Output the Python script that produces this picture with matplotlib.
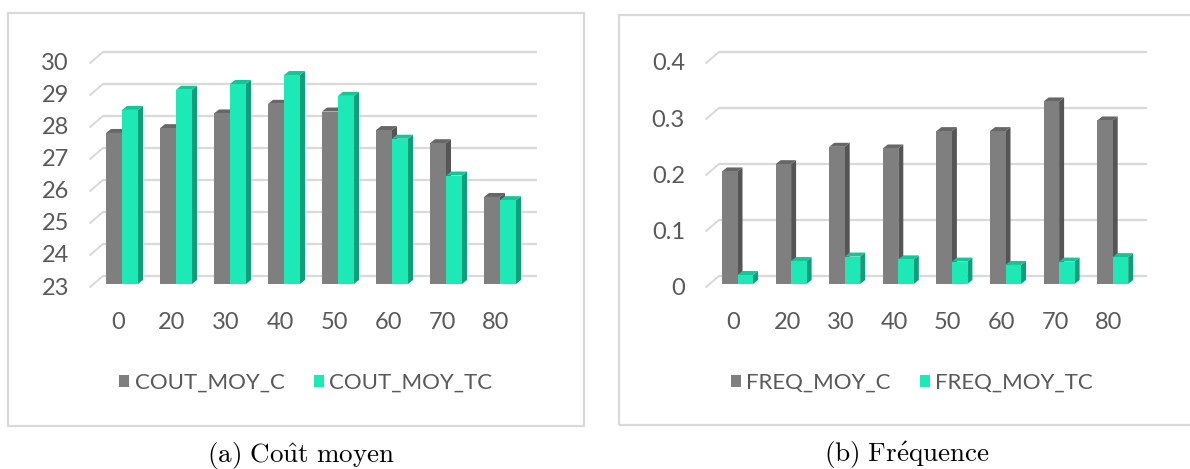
import matplotlib
matplotlib.use("Agg")
import matplotlib.pyplot as plt
from matplotlib.patches import Polygon, Rectangle, Patch
from matplotlib.transforms import ScaledTranslation

# ---- data ---------------------------------------------------------------
categories = ['0', '20', '30', '40', '50', '60', '70', '80']

cout_moy_c = [27.72, 27.87, 28.33, 28.63, 28.39, 27.81, 27.40, 25.72]
cout_moy_tc = [28.44, 29.07, 29.25, 29.53, 28.88, 27.54, 26.39, 25.62]
cout_ticks = [23, 24, 25, 26, 27, 28, 29, 30]

freq_moy_c = [0.201, 0.214, 0.245, 0.242, 0.273, 0.273, 0.326, 0.292]
freq_moy_tc = [0.016, 0.041, 0.049, 0.044, 0.040, 0.034, 0.040, 0.048]
freq_ticks = [0, 0.1, 0.2, 0.3, 0.4]
freq_tick_labels = ['0', '0.1', '0.2', '0.3', '0.4']

# ---- styling ------------------------------------------------------------
W, H, DPI = 1190, 469, 100
plt.rcParams['mathtext.fontset'] = 'cm'
TEXT_FONT = ['Lato', 'DejaVu Sans']
TEXT_COLOR = '#595959'
GRID_COLOR = '#d9d9d9'

GRAY = dict(front='#7f7f7f', side='#555555', top='#676767')
GREEN = dict(front='#1de9b6', side='#109e78', top='#17c497')

fig = plt.figure(figsize=(W / DPI, H / DPI), dpi=DPI)


def px_offset(dx, dy):
    return ScaledTranslation(dx / DPI, dy / DPI, fig.dpi_scale_trans)


def draw_panel(left, right, top, bottom, first_px, step_px, bar_px,
               base, base_px, px_per_unit, s1, s2, ticks, tick_labels):
    """3-D looking clustered column chart inside a pixel box."""
    ax = fig.add_axes([left / W, 1 - bottom / H, (right - left) / W,
                       (bottom - top) / H])
    ax.set_xlim((left - first_px) / step_px, (right - first_px) / step_px)
    ax.set_ylim(base - (bottom - base_px) / px_per_unit,
                base + (base_px - top) / px_per_unit)
    ax.axis('off')

    # pixel -> data unit conversions
    ux = 1.0 / step_px
    uy = 1.0 / px_per_unit
    x0 = ax.get_xlim()[0]

    # back-wall gridlines with receding diagonals on the left
    wall_dx, wall_up, front_down = 13, 8, 3
    for v in ticks:
        ax.plot([x0 + wall_dx * ux, ax.get_xlim()[1]],
                [v + wall_up * uy] * 2, color=GRID_COLOR, lw=1.6,
                zorder=1, solid_capstyle='butt')
        ax.plot([x0, x0 + wall_dx * ux],
                [v - front_down * uy, v + wall_up * uy],
                color=GRID_COLOR, lw=1.4, zorder=1, clip_on=False)

    # columns: front faces through ax.bar, then side and top faces
    w = bar_px * ux
    dx, dy = 5 * ux, 4 * uy
    xs = list(range(len(categories)))
    for i in xs:
        for vals, col, shift in ((s1, GRAY, -w / 2), (s2, GREEN, w / 2)):
            v = vals[i]
            xl = i + shift - w / 2
            xr = i + shift + w / 2
            z = 3 + 2 * i + (1 if col is GREEN else 0)
            ax.add_patch(Polygon([(xr, base), (xr, v), (xr + dx, v + dy),
                                  (xr + dx, base + dy)], closed=True,
                                 fc=col['side'], ec='none', zorder=z))
            ax.add_patch(Polygon([(xl, v), (xr, v), (xr + dx, v + dy),
                                  (xl + dx, v + dy)], closed=True,
                                 fc=col['top'], ec='none', zorder=z))
            ax.bar(i + shift, v - base, width=w, bottom=base,
                   color=col['front'], edgecolor='none', zorder=z + 0.5)

    # value axis labels (front plane)
    for v, lab in zip(ticks, tick_labels):
        ax.text(x0, v, lab, ha='right', va='center', fontsize=17,
                family=TEXT_FONT, color=TEXT_COLOR, clip_on=False,
                transform=ax.transData + px_offset(-21, -4))

    # category labels
    y_lab = base - (322 - base_px) * uy
    for i, lab in zip(xs, categories):
        ax.text(i, y_lab, lab, ha='center', va='center', fontsize=17,
                family=TEXT_FONT, color=TEXT_COLOR, clip_on=False,
                transform=ax.transData + px_offset(-4, 0))
    return ax


draw_panel(90, 537, 40, 300, 122, 54.0, 16, 23, 284, 32.0,
           cout_moy_c, cout_moy_tc, cout_ticks, [str(t) for t in cout_ticks])
draw_panel(706, 1147, 40, 300, 737.5, 53.6, 15.5, 0, 284, 560.0,
           freq_moy_c, freq_moy_tc, freq_ticks, freq_tick_labels)

# legends
for names, cx in ((('COUT_MOY_C', 'COUT_MOY_TC'), 306),
                  (('FREQ_MOY_C', 'FREQ_MOY_TC'), 912)):
    handles = [Patch(fc=GRAY['front'], ec='none', label=names[0]),
               Patch(fc=GREEN['front'], ec='none', label=names[1])]
    fig.legend(handles=handles, loc='center', ncol=2, frameon=False,
               bbox_to_anchor=(cx / W, 1 - 383 / H),
               bbox_transform=fig.transFigure,
               prop={'family': TEXT_FONT, 'size': 16},
               labelcolor=TEXT_COLOR, handlelength=0.45, handleheight=0.45,
               handletextpad=0.25, columnspacing=1.3)

# chart frames
fig.add_artist(Rectangle((7.5 / W, 1 - 426 / H), (584 - 7.5) / W,
                         (426 - 13.5) / H, transform=fig.transFigure,
                         fill=False, ec=GRID_COLOR, lw=1.6))
fig.add_artist(Rectangle((619 / W, 1 - 425 / H), (1200 - 619) / W,
                         (425 - 15) / H, transform=fig.transFigure,
                         fill=False, ec=GRID_COLOR, lw=1.6))

# sub-figure captions
fig.text(301 / W, 1 - 455 / H, r'$\mathrm{(a)\ Co\hat{u}t\ moyen}$',
         ha='center', va='center', fontsize=19.5, color='black')
fig.text(907 / W, 1 - 455 / H, r'$\mathrm{(b)\ Fr\acute{e}quence}$',
         ha='center', va='center', fontsize=19.5, color='black')

fig.savefig('out.png', dpi=DPI, facecolor='white')
